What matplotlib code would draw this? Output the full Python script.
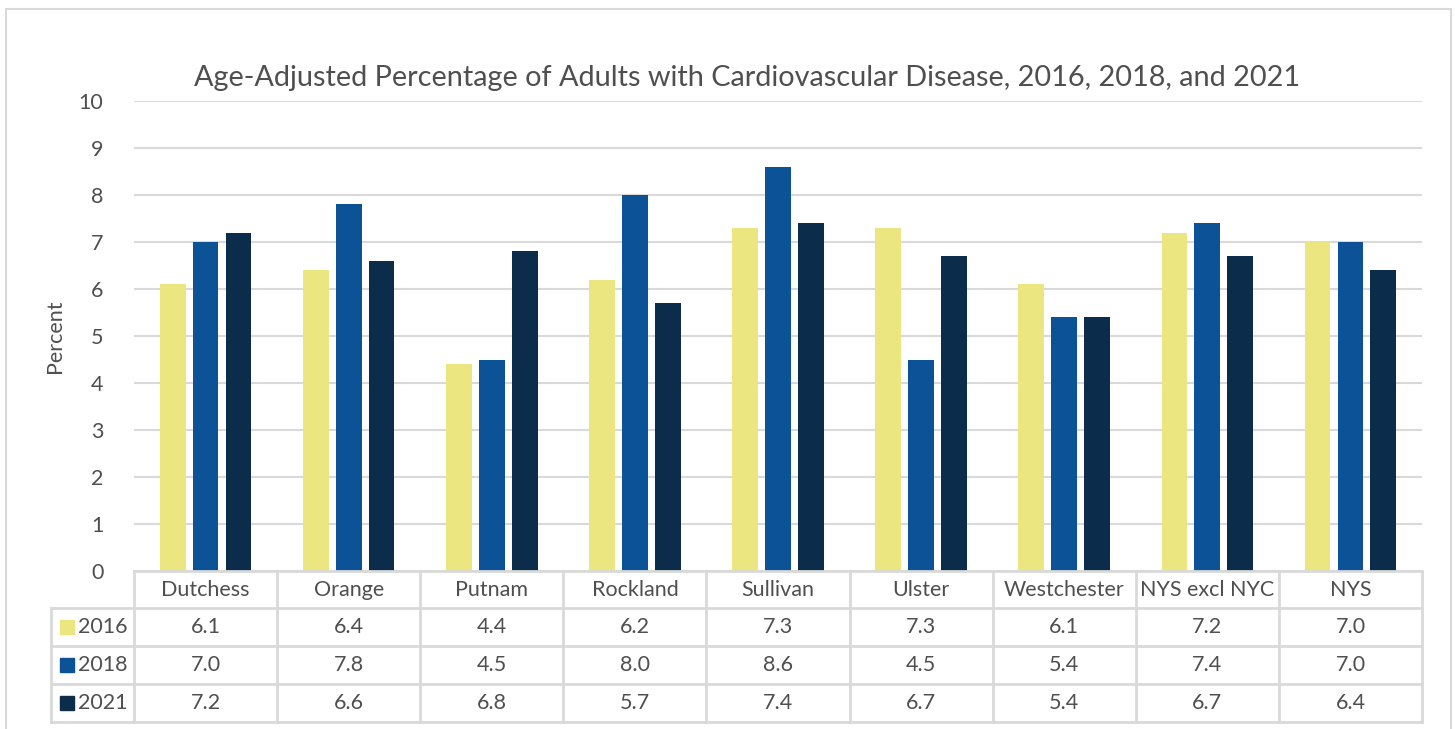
import matplotlib.pyplot as plt
import numpy as np
from matplotlib.patches import Rectangle

regions = ['Dutchess', 'Orange', 'Putnam', 'Rockland', 'Sullivan', 'Ulster',
           'Westchester', 'NYS excl NYC', 'NYS']
years = ['2016', '2018', '2021']
pct_2016 = [6.1, 6.4, 4.4, 6.2, 7.3, 7.3, 6.1, 7.2, 7.0]
pct_2018 = [7.0, 7.8, 4.5, 8.0, 8.6, 4.5, 5.4, 7.4, 7.0]
pct_2021 = [7.2, 6.6, 6.8, 5.7, 7.4, 6.7, 5.4, 6.7, 6.4]
series = [pct_2016, pct_2018, pct_2021]
colors = ['#ECE681', '#0B5296', '#0C2C4C']

plt.rcParams['font.family'] = ['Lato', 'DejaVu Sans']
txt = '#4F4F4F'
grid_c = '#D9D9D9'
fs = 15.5

W, H = 1455, 729
fig = plt.figure(figsize=(W / 100, H / 100), dpi=100)

# chart border (bottom runs off the picture)
fig.patches.append(Rectangle((6 / W, -0.1), 1445 / W, 1.1 - 9 / H, transform=fig.transFigure,
                             fill=False, edgecolor=grid_c, linewidth=1.5))

ax = fig.add_axes([134 / W, 1 - 571 / H, 1288 / W, 470 / H])
x = np.arange(len(regions))
for i, vals in enumerate(series):
    ax.bar(x + (i - 1) * 0.23, vals, width=0.18, color=colors[i], zorder=3)

ax.set_xlim(-0.5, len(regions) - 0.5)
ax.set_ylim(0, 10)
ax.set_yticks(range(0, 11))
ax.set_xticks([])
ax.tick_params(axis='y', length=0, pad=22, labelsize=fs, labelcolor=txt)
ax.grid(axis='y', color=grid_c, linewidth=1.5, zorder=0)
for s in ax.spines.values():
    s.set_visible(False)

fig.text(55 / W, 1 - 336 / H, 'Percent', rotation=90, ha='center', va='center',
         fontsize=fs, color=txt)
fig.text(747 / W, 1 - 78 / H, 'Age-Adjusted Percentage of Adults with Cardiovascular Disease, 2016, 2018, and 2021',
         ha='center', va='center', fontsize=20.8, color=txt)

# data table under the plot
tab = fig.add_axes([51 / W, 1 - 722 / H, (1422 - 51) / W, (722 - 571) / H])
tab.set_xlim(51, 1422)
tab.set_ylim(722, 571)
tab.axis('off')
col_w = (1422 - 134) / len(regions)
row_edges = [571, 608, 646, 684, 722]
lw = 2
# horizontal lines
tab.plot([134, 1422], [571, 571], color=grid_c, lw=lw, clip_on=False)
for yy in row_edges[1:]:
    tab.plot([51, 1422], [yy, yy], color=grid_c, lw=lw, clip_on=False)
# vertical lines
tab.plot([51, 51], [608, 722], color=grid_c, lw=lw, clip_on=False)
for j in range(len(regions) + 1):
    xx = 134 + j * col_w
    tab.plot([xx, xx], [571, 722], color=grid_c, lw=lw, clip_on=False)

for j, name in enumerate(regions):
    cx = 134 + (j + 0.5) * col_w
    tab.text(cx, 590, name, ha='center', va='center', fontsize=fs, color=txt)
    for i, vals in enumerate(series):
        cy = (row_edges[i + 1] + row_edges[i + 2]) / 2
        tab.text(cx, cy, f'{vals[j]:.1f}', ha='center', va='center', fontsize=fs, color=txt)

for i, yr in enumerate(years):
    cy = (row_edges[i + 1] + row_edges[i + 2]) / 2
    tab.add_patch(Rectangle((60, cy - 7), 14, 14, color=colors[i]))
    tab.text(78, cy, yr, ha='left', va='center', fontsize=fs, color=txt)

fig.savefig('out.png', dpi=100)
